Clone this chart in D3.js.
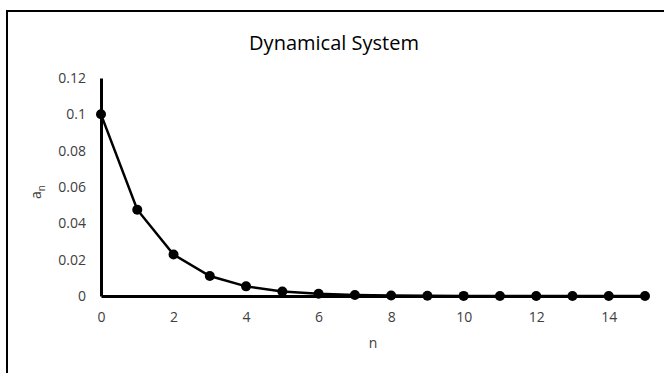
<!DOCTYPE html>
<html><head><meta charset="utf-8">
<script src="https://cdn.jsdelivr.net/npm/d3@7"></script>
<style>body{margin:0;background:#fff}svg{display:block}text{font-family:"Open Sans","Liberation Sans",sans-serif;fill:#404040}</style>
</head><body>
<script>
const nValues = [0,1,2,3,4,5,6,7,8,9,10,11,12,13,14,15];
const aValues = [0.1,0.0475,0.0228,0.011,0.0053,0.0025,0.0012,0.00057,0.00027,0.00013,0.00006,0.00003,0.000014,0.000007,0.000003,0.0000015];
const xTicks = [0,2,4,6,8,10,12,14];
const yTicks = [0,0.02,0.04,0.06,0.08,0.1,0.12];
const title = "Dynamical System";

const W=664,H=373;
const svg=d3.select("body").append("svg").attr("width",W).attr("height",H);
svg.append("rect").attr("x",7).attr("y",11).attr("width",W+20).attr("height",H+20)
  .attr("fill","#fff").attr("stroke","#000").attr("stroke-width",2);

const x=d3.scaleLinear().domain([0,15]).range([101,645]);
const y=d3.scaleLinear().domain([0,0.12]).range([296,78]);

svg.append("text").attr("x",334).attr("y",50).attr("text-anchor","middle")
  .style("font-size","20px").style("fill","#000").text(title);

const gy=svg.append("g").attr("transform","translate(101,0)")
  .call(d3.axisLeft(y).tickValues(yTicks).tickSize(0).tickPadding(15).tickFormat(d=>d3.format("")(+d.toFixed(2))));
gy.select(".domain").attr("stroke","#000").attr("stroke-width",3);
gy.selectAll("text").style("font-size","14px").style("fill","#404040").style("font-family","'Open Sans',sans-serif");

const gx=svg.append("g").attr("transform","translate(0,296)")
  .call(d3.axisBottom(x).tickValues(xTicks).tickSize(0).tickPadding(16).tickFormat(d3.format("d")));
gx.select(".domain").attr("stroke","#000").attr("stroke-width",3);
gx.selectAll("text").style("font-size","14px").style("fill","#404040").style("font-family","'Open Sans',sans-serif");

svg.append("text").attr("x",373).attr("y",348).attr("text-anchor","middle")
  .style("font-size","14px").text("n");

const yl=svg.append("text").attr("transform","translate(41,192) rotate(-90)").attr("text-anchor","middle").style("font-size","14px");
yl.append("tspan").text("a");
yl.append("tspan").attr("dy",4).style("font-size","10px").text("n");

const data=nValues.map((n,i)=>({n,a:aValues[i]}));
svg.append("path").datum(data).attr("fill","none").attr("stroke","#000").attr("stroke-width",2.5)
  .attr("d",d3.line().x(d=>x(d.n)).y(d=>y(d.a)));
svg.selectAll("circle.pt").data(data).enter().append("circle").attr("class","pt")
  .attr("cx",d=>x(d.n)).attr("cy",d=>y(d.a)).attr("r",5).attr("fill","#000");
</script>
</body></html>
